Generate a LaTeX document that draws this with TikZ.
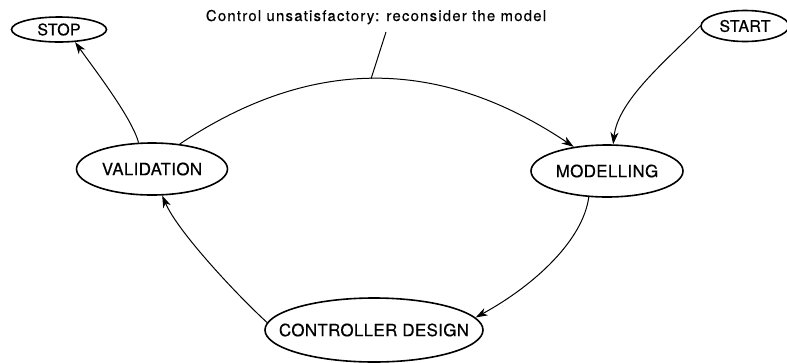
\documentclass[tikz,border=0pt]{standalone}
\usepackage{fontspec}
\setmainfont{TeX Gyre Heros}
\usetikzlibrary{shapes.geometric,arrows.meta}
\begin{document}
\begin{tikzpicture}[x=1bp,y=-1bp,
  state/.style={ellipse,draw,line width=1.6bp,inner sep=0pt,
     execute at begin node={\hbox to 0pt\bgroup\hss},
     execute at end node={\hss\egroup}},
  big/.style={state,font=\fontsize{17}{20}\selectfont\addfontfeature{FakeBold=0.4,LetterSpace=2}},
  small/.style={state,font=\fontsize{16}{19}\selectfont\addfontfeature{FakeBold=0.4,LetterSpace=2}},
  conn/.style={line width=1bp},
  arr/.style={conn,-{Stealth[length=12bp,width=8bp,inset=3.5bp]}}]
\useasboundingbox[fill=white] (0,0) rectangle (787,362);

\node[small,minimum width=95bp,minimum height=25bp] (stop) at (59,29.5) {STOP};
\node[small,minimum width=88bp,minimum height=31bp] (start) at (745,26) {START};
\node[big,minimum width=151bp,minimum height=52bp] (val) at (152,169) {VALIDATION};
\node[big,minimum width=152bp,minimum height=52bp] (mod) at (607,171) {MODELLING};
\node[big,minimum width=218bp,minimum height=64bp] (cd) at (374,330) {CONTROLLER DESIGN};
\node[anchor=base,inner sep=0pt,font=\fontsize{15}{18}\selectfont\addfontfeature{FakeBold=0.3,LetterSpace=8}] (title) at (376,21) {Control unsatisfactory: reconsider the model};

\draw[arr] (start.west) .. controls (667,60) and (618,100) .. (mod.77);
\draw[arr] (val.42) .. controls (313,55) and (441,58) .. (mod.144) coordinate[pos=0.485] (arcpt);
\coordinate (leadtop) at (386,32);
\draw[conn] (leadtop) -- (arcpt);
\draw[arr] (mod.235) .. controls (583,240) and (535,285) .. (cd.7);
\draw[arr] (cd.176) .. controls (237,295) and (178,232) .. (val.291);
\draw[arr] (val.117) .. controls (132,118) and (95,70) .. (stop.322);
\end{tikzpicture}
\end{document}
